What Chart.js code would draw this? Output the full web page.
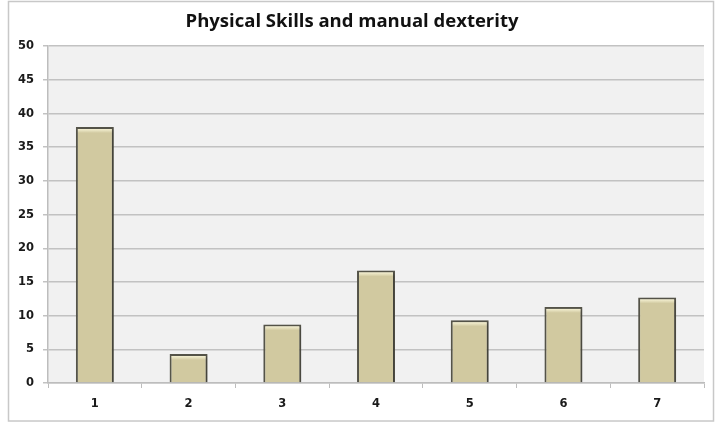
<!DOCTYPE html>
<html>
<head>
<meta charset="utf-8">
<script src="https://cdn.jsdelivr.net/npm/chart.js@4/dist/chart.umd.min.js"></script>
<style>
  html, body { margin: 0; padding: 0; background: #ffffff; }
  #wrap { width: 723px; height: 425px; position: relative; }
</style>
</head>
<body>
<div id="wrap"><canvas id="chart" width="723" height="425"></canvas></div>
<script>
// Survey scores per item
const categories = ['1', '2', '3', '4', '5', '6', '7'];
const scores = [38, 4.3, 8.7, 16.7, 9.3, 11.3, 12.7];
const yTicks = [0, 5, 10, 15, 20, 25, 30, 35, 40, 45, 50];
const chartTitle = 'Physical Skills and manual dexterity';

// Frame around the whole chart plus the grey plot background
const framePlugin = {
  id: 'frame',
  beforeDraw(chart) {
    const { ctx, chartArea: a } = chart;
    ctx.save();
    ctx.fillStyle = '#ffffff';
    ctx.fillRect(0, 0, chart.width, chart.height);
    ctx.strokeStyle = '#c8c8c8';
    ctx.lineWidth = 1.5;
    ctx.strokeRect(8.5, 1.5, 705, 419.5);
    ctx.fillStyle = '#f1f1f1';
    ctx.fillRect(a.left, a.top, a.right - a.left, a.bottom - a.top);
    ctx.restore();
  }
};

// Soft shadow under bars and a pale highlight along each bar's top edge
const barStylePlugin = {
  id: 'barStyle',
  beforeDatasetDraw(chart) {
    const ctx = chart.ctx;
    ctx.save();
    ctx.shadowColor = 'rgba(0,0,0,0.25)';
    ctx.shadowBlur = 3;
    ctx.shadowOffsetX = 2;
    ctx.shadowOffsetY = 1;
  },
  afterDatasetDraw(chart) {
    const ctx = chart.ctx;
    ctx.restore();
    ctx.save();
    chart.getDatasetMeta(0).data.forEach(bar => {
      const half = bar.width / 2;
      const g = ctx.createLinearGradient(0, bar.y + 1, 0, bar.y + 6);
      g.addColorStop(0, 'rgba(255,252,225,0.95)');
      g.addColorStop(1, 'rgba(255,252,225,0)');
      ctx.fillStyle = g;
      ctx.fillRect(bar.x - half + 2, bar.y + 2, bar.width - 4, 5);
    });
    ctx.restore();
  }
};

const tickFont = { family: 'DejaVu Sans', size: 11.5, weight: 'bold' };

new Chart(document.getElementById('chart'), {
  type: 'bar',
  data: {
    labels: categories,
    datasets: [{
      data: scores,
      backgroundColor: '#d1c9a0',
      borderColor: '#555449',
      borderWidth: 2,
      barPercentage: 0.405,
      categoryPercentage: 1.0
    }]
  },
  options: {
    responsive: false,
    animation: false,
    devicePixelRatio: 1,
    layout: { padding: { left: 0, right: 19, top: 0, bottom: 0 } },
    plugins: {
      legend: { display: false },
      tooltip: { enabled: false },
      title: {
        display: true,
        text: chartTitle,
        color: '#111111',
        font: { family: 'Open Sans', size: 18.5, weight: 'bold' },
        padding: { top: 11, bottom: 13 }
      }
    },
    scales: {
      x: {
        offset: true,
        grid: {
          offset: true,
          drawOnChartArea: false,
          drawTicks: true,
          tickLength: 5,
          color: '#bdbdbd',
          lineWidth: 1
        },
        border: { color: '#bdbdbd', width: 1.5 },
        ticks: {
          color: '#1a1a1a',
          font: tickFont,
          padding: 9
        },
        afterFit(scale) { scale.height = 42; }
      },
      y: {
        min: 0,
        max: 50,
        afterBuildTicks(scale) { scale.ticks = yTicks.map(v => ({ value: v })); },
        grid: {
          color: '#c2c2c2',
          lineWidth: 1.5,
          drawTicks: true,
          tickLength: 5
        },
        border: { color: '#bdbdbd', width: 1.5 },
        ticks: {
          color: '#1a1a1a',
          font: tickFont,
          padding: 9
        },
        afterFit(scale) { scale.width = 48; }
      }
    }
  },
  plugins: [framePlugin, barStylePlugin]
});
</script>
</body>
</html>
